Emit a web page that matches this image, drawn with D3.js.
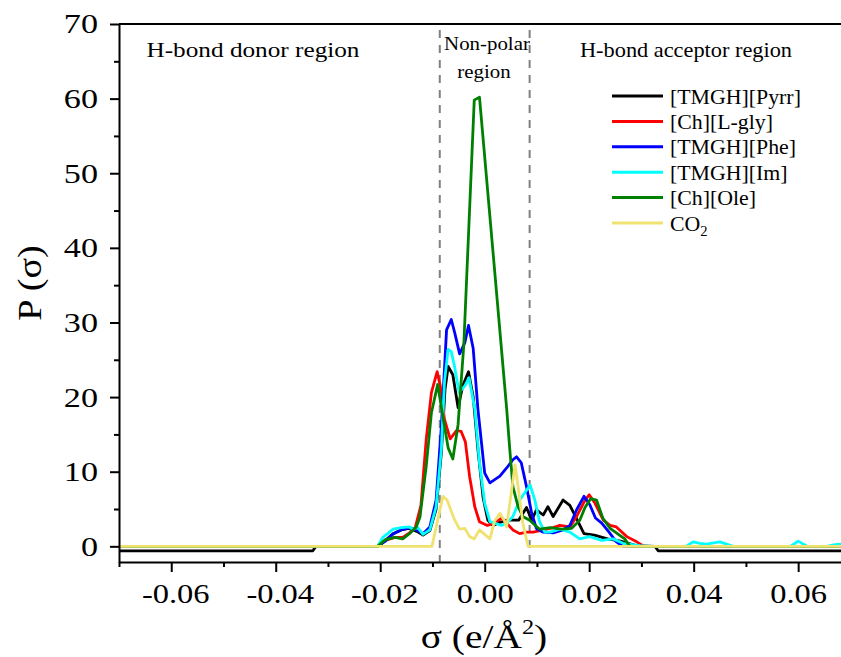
<!DOCTYPE html>
<html>
<head>
<meta charset="utf-8">
<script src="https://cdnjs.cloudflare.com/ajax/libs/d3/7.8.5/d3.min.js"></script>
<style>
  html, body { margin: 0; padding: 0; background: #fff; }
  svg { display: block; }
  svg text { font-family: "Liberation Serif", "Times New Roman", serif; fill: #000; }
</style>
</head>
<body>
<svg id="chart" width="841" height="657"></svg>
<script>
// Sigma profiles: each series is a list of [sigma (e/Å²), P(sigma)] points
const seriesNames = ["[TMGH][Pyrr]", "[Ch][L-gly]", "[TMGH][Phe]", "[TMGH][Im]", "[Ch][Ole]", "CO2"];
const seriesColors = ["#000000", "#ff0000", "#0000ff", "#00ffff", "#008000", "#f0e270"];

const pyrr = [[-0.07,-0.6],[-0.0329,-0.6],[-0.0323,0],[-0.0205,0],[-0.019,0.8],[-0.0175,1.7],[-0.016,2.2],[-0.0145,2.4],[-0.013,2.0],[-0.0118,1.5],[-0.0105,2.1],[-0.0093,5],[-0.0083,12.5],[-0.0076,21],[-0.007,24.1],[-0.0061,23],[-0.0051,18.6],[-0.0042,21.5],[-0.0031,23.4],[-0.0022,20],[-0.0013,13],[-0.0003,6.5],[0.0006,3.5],[0.0016,2.8],[0.0025,3.1],[0.0042,3.5],[0.0065,3.5],[0.008,5.2],[0.009,3.5],[0.0099,4.9],[0.0112,4.2],[0.0121,5.3],[0.0131,4],[0.015,6.2],[0.0163,5.5],[0.0178,3.4],[0.019,1.7],[0.021,1.5],[0.0235,1],[0.026,0.7],[0.029,0.1],[0.0326,0],[0.0332,-0.6],[0.07,-0.6]];

const lgly = [[-0.07,0],[-0.0205,0],[-0.019,0.8],[-0.0172,1.2],[-0.0157,1.2],[-0.0144,1.8],[-0.0133,2.5],[-0.0122,5.5],[-0.0112,14.3],[-0.0102,20.6],[-0.0091,23.4],[-0.0085,21.5],[-0.0077,17],[-0.0066,14.4],[-0.0054,15.5],[-0.0045,15.4],[-0.0037,14],[-0.0029,9.4],[-0.0019,5.3],[-0.001,3.3],[0.0005,2.8],[0.0019,3.1],[0.0033,3.8],[0.0042,3.1],[0.0054,2.2],[0.0067,1.7],[0.008,1.9],[0.0093,1.9],[0.0112,2.2],[0.0131,2.5],[0.0144,2.8],[0.0163,2.6],[0.0176,4],[0.0192,6.2],[0.02,6.9],[0.0211,5.8],[0.0227,3.5],[0.024,2.8],[0.0252,2.6],[0.0272,1.3],[0.0291,0.6],[0.0305,0],[0.07,0]];

const phe = [[-0.07,0],[-0.0205,0],[-0.019,0.7],[-0.0175,1.7],[-0.016,2.2],[-0.0144,2.5],[-0.0131,2.2],[-0.0118,1.7],[-0.0105,2.6],[-0.0093,6.2],[-0.0083,16],[-0.0073,29],[-0.0064,30.4],[-0.0057,28.5],[-0.0048,25.8],[-0.0038,27.3],[-0.0031,29.6],[-0.0022,26.5],[-0.0013,18.4],[0,9.8],[0.001,8.5],[0.0029,9.4],[0.0042,10.5],[0.0054,11.6],[0.0061,12],[0.007,11.2],[0.008,8],[0.009,4.4],[0.0099,2.4],[0.0112,1.9],[0.0131,1.8],[0.015,2.2],[0.0163,2.8],[0.0176,4.9],[0.019,6.7],[0.0201,5.6],[0.0212,3.8],[0.0224,3.1],[0.0238,1.9],[0.0252,0.6],[0.0265,0],[0.07,0]];

const im = [[-0.07,0],[-0.0205,0],[-0.0195,1.2],[-0.0175,2.3],[-0.016,2.5],[-0.0145,2.6],[-0.0137,2.3],[-0.0128,2.5],[-0.0118,1.6],[-0.0105,2.2],[-0.0093,5.3],[-0.0083,13],[-0.0077,22],[-0.007,26.4],[-0.0064,26.1],[-0.0058,24.2],[-0.0049,20.6],[-0.0038,21.5],[-0.003,22.6],[-0.0019,18.4],[-0.001,11.2],[0,5.8],[0.001,3.3],[0.0019,3.1],[0.0032,2.8],[0.0042,3.1],[0.0054,4],[0.0067,6.2],[0.0087,8.2],[0.0096,6.2],[0.0105,3.3],[0.0115,1.9],[0.0125,1.9],[0.0144,2.3],[0.0163,1.9],[0.0182,1.0],[0.0201,1.3],[0.0224,0.8],[0.0246,1.0],[0.0265,0.4],[0.0297,0.1],[0.0316,0],[0.0385,0],[0.0399,0.6],[0.0412,0.4],[0.0425,0.3],[0.0438,0.45],[0.045,0.6],[0.0463,0.3],[0.0476,0],[0.0585,0],[0.06,0.7],[0.0617,0],[0.0655,0],[0.0668,0.2],[0.068,0.3],[0.07,0.3]];

const ole = [[-0.07,0],[-0.0205,0],[-0.019,0.9],[-0.0172,1.2],[-0.0157,1.0],[-0.0144,1.7],[-0.0131,2.6],[-0.0124,3.9],[-0.0112,10.7],[-0.0102,17.9],[-0.009,21.7],[-0.008,17.4],[-0.007,13.2],[-0.0061,11.7],[-0.0051,16.3],[-0.004,27],[-0.002,59.8],[-0.001,60.2],[0.0042,18.5],[0.0048,13],[0.0054,8],[0.0064,5.3],[0.0073,4],[0.0086,3.5],[0.0105,2.3],[0.0125,2.5],[0.0147,2.3],[0.0166,2.4],[0.0182,3.5],[0.0192,5.2],[0.0203,6.4],[0.0214,6.2],[0.0226,3.8],[0.024,2.4],[0.0256,1.6],[0.0268,1],[0.0278,0],[0.07,0]];

const co2 = [[-0.07,0],[-0.0101,0],[-0.008,6.7],[-0.0072,6.2],[-0.0058,3.6],[-0.0048,2.3],[-0.0038,2.4],[-0.0029,1.3],[-0.002,1],[-0.001,2.2],[0,1.6],[0.001,1],[0.0019,3.4],[0.0029,4.4],[0.0038,3.4],[0.0042,2.6],[0.0058,10.9],[0.0064,8],[0.0073,3.1],[0.0083,0],[0.07,0]];

const seriesData = [pyrr, lgly, phe, im, ole, co2];

// Axis ticks and region boundaries
const xMajorTicks = [-0.06, -0.04, -0.02, 0.00, 0.02, 0.04, 0.06];
const xMinorTicks = [-0.07, -0.05, -0.03, -0.01, 0.01, 0.03, 0.05];
const yMajorTicks = [0, 10, 20, 30, 40, 50, 60, 70];
const yMinorTicks = [5, 15, 25, 35, 45, 55, 65];
const regionBounds = [-0.0086, 0.0086];

const svg = d3.select("#chart");
const plotLeft = 119, plotRight = 841, plotTop = 24, plotBottom = 562;
const WIDEN = 1.16; // horizontal widening applied to the serif lettering

const x = d3.scaleLinear().domain([-0.07, 0.0682]).range([plotLeft, plotRight]);
const y = d3.scaleLinear().domain([-2.1, 70]).range([plotBottom, plotTop]);

// Stretch a plain text element horizontally, keeping its anchor
function widen(sel, factor) {
  sel.each(function () {
    const w = this.getComputedTextLength();
    d3.select(this).attr("textLength", w * factor).attr("lengthAdjust", "spacingAndGlyphs");
  });
}

svg.append("defs").append("clipPath").attr("id", "plotClip")
  .append("rect").attr("x", plotLeft).attr("y", plotTop)
  .attr("width", plotRight - plotLeft).attr("height", plotBottom - plotTop);

// Region dividers
svg.append("g").selectAll("line").data(regionBounds).join("line")
  .attr("x1", d => x(d)).attr("x2", d => x(d))
  .attr("y1", plotTop + 6).attr("y2", plotBottom)
  .attr("stroke", "#808080").attr("stroke-width", 2)
  .attr("stroke-dasharray", "8,7");

// Profiles
const line = d3.line().x(d => x(d[0])).y(d => y(d[1]));
svg.append("g").attr("clip-path", "url(#plotClip)")
  .selectAll("path").data(seriesData).join("path")
  .attr("d", line)
  .attr("fill", "none")
  .attr("stroke", (d, i) => seriesColors[i])
  .attr("stroke-width", 2.8)
  .attr("stroke-linejoin", "round");

// Axes
const fmt = d => (Math.abs(d) < 1e-9 ? "0.00" : d.toFixed(2));
const xAxis = svg.append("g").attr("transform", `translate(0,${plotBottom})`)
  .call(d3.axisBottom(x).tickValues(xMajorTicks).tickFormat(fmt).tickSize(10).tickPadding(6).tickSizeOuter(0));
svg.append("g").attr("transform", `translate(0,${plotBottom})`)
  .call(d3.axisBottom(x).tickValues(xMinorTicks).tickFormat("").tickSize(5).tickSizeOuter(0))
  .select(".domain").remove();

const yAxis = svg.append("g").attr("transform", `translate(${plotLeft},0)`)
  .call(d3.axisLeft(y).tickValues(yMajorTicks).tickSize(9).tickPadding(12).tickSizeOuter(0));
svg.append("g").attr("transform", `translate(${plotLeft},0)`)
  .call(d3.axisLeft(y).tickValues(yMinorTicks).tickFormat("").tickSize(5).tickSizeOuter(0))
  .select(".domain").remove();

svg.selectAll("g").attr("font-family", null);
svg.selectAll(".domain").attr("stroke", "#000").attr("stroke-width", 2);
svg.selectAll(".tick line").attr("stroke", "#000").attr("stroke-width", 2);
xAxis.selectAll(".tick text").attr("font-size", 28).attr("dy", "0.9em")
  .attr("dx", d => (d < 0 ? 4 : 0)).call(widen, WIDEN);
yAxis.selectAll(".tick text").attr("font-size", 28).call(widen, 1.22);

// Top frame
svg.append("line").attr("x1", plotLeft).attr("x2", plotRight).attr("y1", plotTop).attr("y2", plotTop)
  .attr("stroke", "#000").attr("stroke-width", 2);

// Axis titles
const xt = svg.append("text").attr("transform", `translate(484,648) scale(${WIDEN},1)`)
  .attr("text-anchor", "middle").attr("font-size", 34);
xt.append("tspan").text("σ (e/Å");
xt.append("tspan").attr("font-size", 21).attr("dy", -14).text("2");
xt.append("tspan").attr("dy", 14).text(")");

svg.append("text").attr("transform", "translate(41,283) rotate(-90)").attr("text-anchor", "middle")
  .attr("font-size", 33).text("P (σ)").call(widen, WIDEN);

// Region labels
svg.append("text").attr("x", 253).attr("y", 57).attr("text-anchor", "middle")
  .attr("font-size", 21).attr("textLength", 213).attr("lengthAdjust", "spacingAndGlyphs")
  .text("H-bond donor region");
svg.append("text").attr("x", 487).attr("y", 50).attr("text-anchor", "middle")
  .attr("font-size", 18).text("Non-polar").call(widen, WIDEN);
svg.append("text").attr("x", 484).attr("y", 78).attr("text-anchor", "middle")
  .attr("font-size", 18).text("region").call(widen, WIDEN);
svg.append("text").attr("x", 686).attr("y", 57).attr("text-anchor", "middle")
  .attr("font-size", 21).attr("textLength", 212).attr("lengthAdjust", "spacingAndGlyphs")
  .text("H-bond acceptor region");

// Legend
const legend = svg.append("g");
const rowY = i => 96 + i * 25.4;
seriesNames.forEach((name, i) => {
  legend.append("line").attr("x1", 612).attr("x2", 663).attr("y1", rowY(i)).attr("y2", rowY(i))
    .attr("stroke", seriesColors[i]).attr("stroke-width", 3);
  const t = legend.append("text")
    .attr("transform", `translate(670,${rowY(i) + 7.5}) scale(1.04,1)`)
    .attr("font-size", 21);
  if (name === "CO2") {
    t.append("tspan").text("CO");
    t.append("tspan").attr("font-size", 14).attr("dy", 5).text("2");
  } else {
    t.text(name);
  }
});
</script>
</body>
</html>
